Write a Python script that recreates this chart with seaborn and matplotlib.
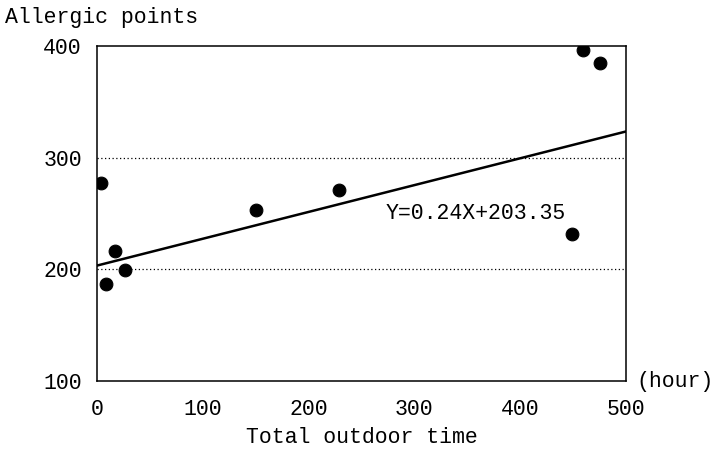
import matplotlib
matplotlib.use("Agg")
import matplotlib.pyplot as plt
import seaborn as sns
import pandas as pd

# Values
outdoor_hours = [4, 8.5, 17, 26.5, 150, 229, 449, 460, 476]
allergic_points = [277, 187, 216, 199, 253, 271, 232, 396, 385]

slope = 0.24
intercept = 203.35
fit_x = [0, 500]

x_ticks = [0, 100, 200, 300, 400, 500]
y_ticks = [100, 200, 300, 400]

sns.set_style("white")
plt.rcParams['font.family'] = ['Liberation Mono', 'DejaVu Sans Mono']
plt.rcParams['text.color'] = 'black'
plt.rcParams['xtick.color'] = 'black'
plt.rcParams['ytick.color'] = 'black'
plt.rcParams['axes.labelcolor'] = 'black'

FS = 15.5

df = pd.DataFrame({'hours': outdoor_hours, 'points': allergic_points})
fit = pd.DataFrame({'x': fit_x, 'y': [slope * v + intercept for v in fit_x]})

fig = plt.figure(figsize=(7.16, 4.5), dpi=100)
ax = fig.add_axes([0.1355, 0.1533, 0.7385, 0.7447])

# dotted reference lines
for yv in [200, 300]:
    ax.axhline(yv, color='black', linestyle=(0, (1, 2)), linewidth=0.9, zorder=1)

sns.lineplot(data=fit, x='x', y='y', ax=ax, color='black', linewidth=1.8, zorder=2)
sns.scatterplot(data=df, x='hours', y='points', ax=ax, color='black', s=85,
                edgecolor='black', zorder=3)

ax.set_xlim(0, 500)
ax.set_ylim(100, 400)
ax.set_xticks(x_ticks)
ax.set_yticks(y_ticks)
ax.set_xlabel('Total outdoor time', fontsize=FS, labelpad=5)
ax.set_ylabel('')
ax.tick_params(axis='x', direction='in', length=5, width=1, labelsize=FS, pad=13)
ax.tick_params(axis='y', length=0, labelsize=FS, pad=11)

for sp in ax.spines.values():
    sp.set_color('black')
    sp.set_linewidth(1.1)

ax.text(273, 250, 'Y=0.24X+203.35', fontsize=FS, va='center', ha='left')
fig.text(0.007, 0.96, 'Allergic points', fontsize=FS, va='center', ha='left')
ax.text(1.02, 0.0, '(hour)', transform=ax.transAxes, fontsize=FS,
        va='center', ha='left')

fig.savefig('out.png', dpi=100)
